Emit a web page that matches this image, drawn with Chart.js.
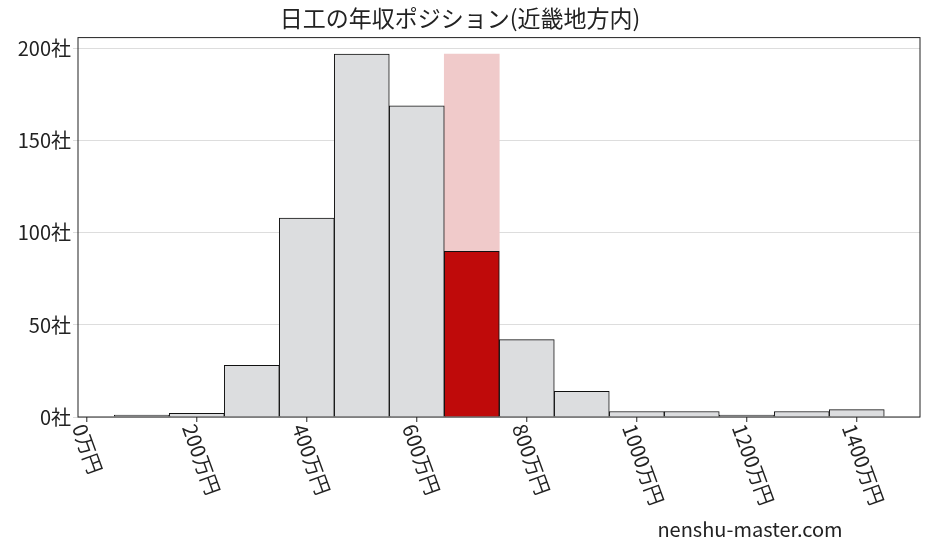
<!DOCTYPE html>
<html><head><meta charset="utf-8">
<script src="https://cdn.jsdelivr.net/npm/chart.js@4"></script>
<style>body{margin:0;background:#fff}</style></head>
<body><canvas id="c" width="927" height="557"></canvas>
<script>
const binCenters = [100, 200, 300, 400, 500, 600, 700, 800, 900, 1000, 1100, 1200, 1300, 1400];
const counts = [1, 2, 28, 108, 197, 169, 90, 42, 14, 3, 3, 1, 3, 4];
const highlightX = 700;
const highlightTop = 197;
const xTicks = [0, 200, 400, 600, 800, 1000, 1200, 1400];
const yTicks = [0, 50, 100, 150, 200];
const FONT = "'Noto Sans CJK JP', 'DejaVu Serif', serif";

// x labels rotated clockwise, hanging below each tick
const xLabels = {
  id: 'xLabels',
  afterDraw(chart) {
    const ctx = chart.ctx, sx = chart.scales.x, bottom = chart.chartArea.bottom;
    ctx.save();
    ctx.font = '20px ' + FONT;
    ctx.fillStyle = '#222';
    xTicks.forEach(v => {
      const px = sx.getPixelForValue(v);
      ctx.beginPath(); ctx.moveTo(px, bottom); ctx.lineTo(px, bottom + 5);
      ctx.strokeStyle = '#222'; ctx.lineWidth = 1; ctx.stroke();
      ctx.save();
      ctx.translate(px - 8, bottom + 8);
      ctx.rotate(70 * Math.PI / 180);
      ctx.textAlign = 'left'; ctx.textBaseline = 'middle';
      ctx.fillText(v + '万円', 0, 0);
      ctx.restore();
    });
    ctx.textAlign = 'center';
    ctx.fillText('nenshu-master.com', 750, 537);
    const a = chart.chartArea;
    ctx.strokeStyle = '#222';
    ctx.strokeRect(a.left, a.top, a.right - a.left, a.bottom - a.top);
    ctx.restore();
  }
};

new Chart(document.getElementById('c'), {
  type: 'bar',
  data: {
    datasets: [
      {
        data: binCenters.map((x, i) => ({ x, y: counts[i] })),
        backgroundColor: binCenters.map(x => x === highlightX ? '#bf0a0a' : '#dcdddf'),
        borderColor: '#111', borderWidth: 1,
        barPercentage: 1, categoryPercentage: 1, order: 1
      },
      {
        data: [{ x: highlightX, y: highlightTop }],
        backgroundColor: '#f0caca', borderWidth: 0,
        barPercentage: 1, categoryPercentage: 1, order: 2
      }
    ]
  },
  options: {
    responsive: false, animation: false,
    layout: { padding: { right: 7, top: 4 } },
    plugins: {
      legend: { display: false }, tooltip: { enabled: false },
      title: { display: true, text: '日工の年収ポジション(近畿地方内)', color: '#222',
        font: { size: 23, family: FONT, weight: 'normal' }, padding: { top: 0, bottom: 6 } }
    },
    scales: {
      x: {
        type: 'linear', stacked: true, min: -16, max: 1515, offset: false,
        grid: { display: false, offset: false }, border: { display: false },
        ticks: { display: false },
        afterFit(s) { s.height = 140; }
      },
      y: {
        stacked: false, min: 0, max: 206,
        afterBuildTicks(s) { s.ticks = yTicks.map(v => ({ value: v })); },
        grid: { color: '#dddddd', drawTicks: true, tickLength: 5 },
        border: { display: false },
        ticks: { color: '#222', font: { size: 20, family: FONT }, padding: 2,
          callback: v => v + '社' },
        afterFit(s) { s.width = 78; }
      }
    }
  },
  plugins: [xLabels]
});
</script></body></html>
